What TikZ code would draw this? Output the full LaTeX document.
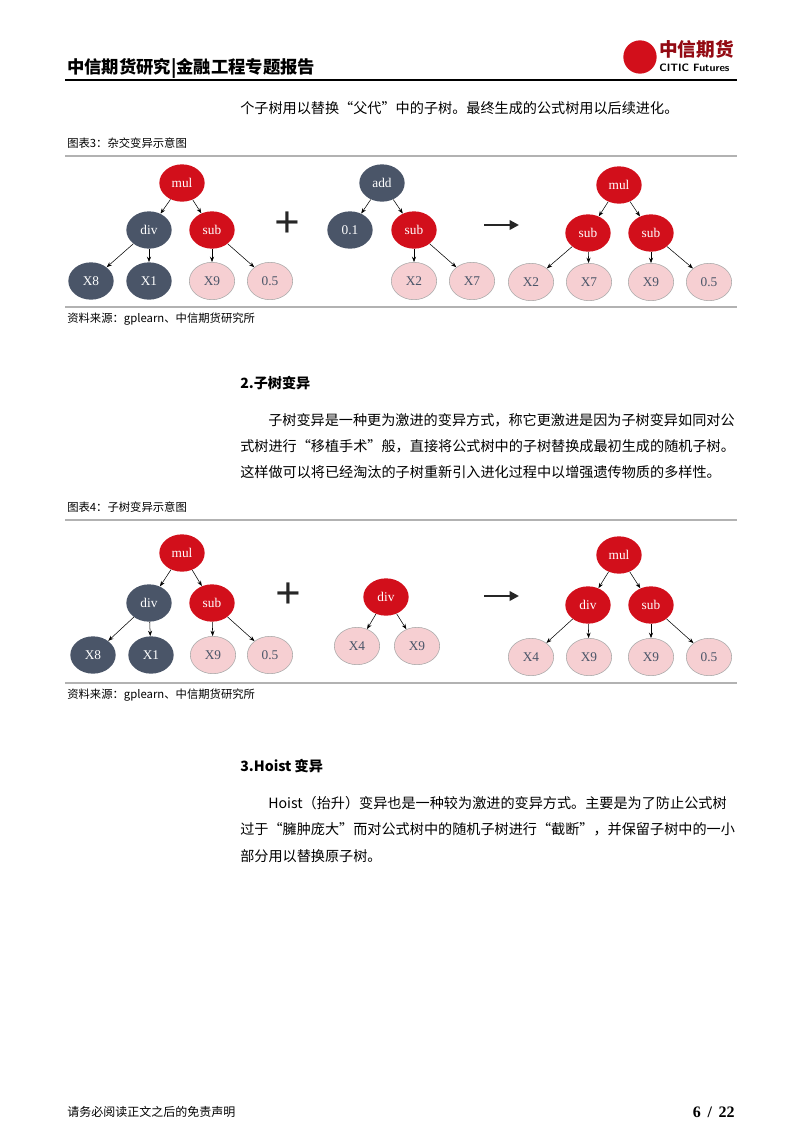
\documentclass[tikz,border=0pt]{standalone}
\usepackage{fontspec}
\setmainfont{Liberation Serif}
\newfontfamily\cjk{Noto Sans CJK SC}
\usetikzlibrary{shapes.geometric, arrows.meta, positioning}
\definecolor{citicred}{HTML}{D20F1B}
\definecolor{slate}{HTML}{4A5568}
\definecolor{rosy}{HTML}{F6CFD2}
\tikzset{
  rednode/.style={ellipse,fill=citicred,text=white,minimum width=34pt,minimum height=28pt,inner sep=0pt,font=\normalsize},
  darknode/.style={ellipse,fill=slate,text=white,minimum width=34pt,minimum height=28pt,inner sep=0pt,font=\normalsize},
  palenode/.style={ellipse,fill=rosy,draw=gray!70,text=slate,minimum width=34pt,minimum height=28pt,inner sep=0pt,font=\normalsize},
  edge/.style={-{Stealth[length=4pt]},thin},
  body/.style={anchor=west,inner sep=0pt,font=\cjk\fontsize{10.6}{12}\selectfont},
  captext/.style={anchor=west,inner sep=0pt,font=\cjk\fontsize{8.5}{10}\selectfont}
}
\begin{document}
\begin{tikzpicture}[x=0.75pt,y=-0.75pt]
\useasboundingbox (0,0) rectangle (802,1133);
% header
\node[anchor=west,inner sep=0pt,font=\cjk\bfseries\fontsize{13}{15}\selectfont] (title) at (67,68) {中信期货研究|金融工程专题报告};
\node[circle,fill=citicred,minimum size=25pt,inner sep=0pt] (logo) at (640,57) {};
\node[anchor=west,inner sep=0pt,font=\cjk\bfseries\fontsize{14}{16}\selectfont,text=citicred!70!black] (brand) at (659,49) {中信期货};
\node[anchor=west,inner sep=0pt,font=\sffamily\bfseries\fontsize{8}{9}\selectfont] (brandEn) at (659,68) {CITIC Futures};
\draw[line width=0.8pt] (65,80) -- (737,80);
\node[body] (intro) at (240,108) {个子树用以替换“父代”中的子树。最终生成的公式树用以后续进化。};
% figure 3
\node[captext] (cap3) at (67,143) {图表3：杂交变异示意图};
\draw[gray!60,line width=2pt] (65,156) -- (737,156);
\node[rednode] (m1) at (182,183) {mul};
\node[darknode] (d1) at (149,230) {div};
\node[rednode] (s1) at (212,230) {sub};
\node[darknode] (a1) at (91,281) {X8};
\node[darknode] (b1) at (149,281) {X1};
\node[palenode] (c1) at (212,281) {X9};
\node[palenode] (e1) at (270,281) {0.5};
\draw[edge] (m1) -- (d1); \draw[edge] (m1) -- (s1);
\draw[edge] (d1) -- (a1); \draw[edge] (d1) -- (b1);
\draw[edge] (s1) -- (c1); \draw[edge] (s1) -- (e1);
\node[font=\bfseries\fontsize{34}{34}\selectfont,text=black!85] (plus1) at (287,225) {+};
\node[darknode] (m2) at (382,183) {add};
\node[darknode] (d2) at (350,230) {0.1};
\node[rednode] (s2) at (414,230) {sub};
\node[palenode] (c2) at (414,281) {X2};
\node[palenode] (e2) at (472,281) {X7};
\draw[edge] (m2) -- (d2); \draw[edge] (m2) -- (s2);
\draw[edge] (s2) -- (c2); \draw[edge] (s2) -- (e2);
\coordinate (p1) at (484,225); \coordinate (q1) at (519,225);
\draw[-{Triangle[length=7pt,width=7pt]},line width=2pt,black!85] (p1) -- (q1);
\node[rednode] (m3) at (619,185) {mul};
\node[rednode] (d3) at (588,233) {sub};
\node[rednode] (s3) at (651,233) {sub};
\node[palenode] (a3) at (531,282) {X2};
\node[palenode] (b3) at (589,282) {X7};
\node[palenode] (c3) at (651,282) {X9};
\node[palenode] (e3) at (709,282) {0.5};
\draw[edge] (m3) -- (d3); \draw[edge] (m3) -- (s3);
\draw[edge] (d3) -- (a3); \draw[edge] (d3) -- (b3);
\draw[edge] (s3) -- (c3); \draw[edge] (s3) -- (e3);
\draw[gray!60,line width=2pt] (65,307) -- (737,307);
\node[captext] (src3) at (67,319) {资料来源：gplearn、中信期货研究所};
% section 2
\node[body,font=\cjk\bfseries\fontsize{10.6}{12}\selectfont] (sec2) at (240,383) {2.子树变异};
\node[body] (t21) at (268,420) {子树变异是一种更为激进的变异方式，称它更激进是因为子树变异如同对公};
\node[body] (t22) at (240,446) {式树进行“移植手术”般，直接将公式树中的子树替换成最初生成的随机子树。};
\node[body] (t23) at (240,472) {这样做可以将已经淘汰的子树重新引入进化过程中以增强遗传物质的多样性。};
% figure 4
\node[captext] (cap4) at (67,507) {图表4：子树变异示意图};
\draw[gray!60,line width=2pt] (65,520) -- (737,520);
\node[rednode] (m4) at (182,553) {mul};
\node[darknode] (d4) at (149,603) {div};
\node[rednode] (s4) at (212,603) {sub};
\node[darknode] (a4) at (93,655) {X8};
\node[darknode] (b4) at (151,655) {X1};
\node[palenode] (c4) at (213,655) {X9};
\node[palenode] (e4) at (270,655) {0.5};
\draw[edge] (m4) -- (d4); \draw[edge] (m4) -- (s4);
\draw[edge] (d4) -- (a4); \draw[edge] (d4) -- (b4);
\draw[edge] (s4) -- (c4); \draw[edge] (s4) -- (e4);
\node[font=\bfseries\fontsize{34}{34}\selectfont,text=black!85] (plus2) at (288,596) {+};
\node[rednode] (m5) at (386,597) {div};
\node[palenode] (a5) at (357,646) {X4};
\node[palenode] (b5) at (417,646) {X9};
\draw[edge] (m5) -- (a5); \draw[edge] (m5) -- (b5);
\coordinate (p2) at (484,596); \coordinate (q2) at (519,596);
\draw[-{Triangle[length=7pt,width=7pt]},line width=2pt,black!85] (p2) -- (q2);
\node[rednode] (m6) at (619,555) {mul};
\node[rednode] (d6) at (588,605) {div};
\node[rednode] (s6) at (651,605) {sub};
\node[palenode] (a6) at (531,657) {X4};
\node[palenode] (b6) at (589,657) {X9};
\node[palenode] (c6) at (651,657) {X9};
\node[palenode] (e6) at (709,657) {0.5};
\draw[edge] (m6) -- (d6); \draw[edge] (m6) -- (s6);
\draw[edge] (d6) -- (a6); \draw[edge] (d6) -- (b6);
\draw[edge] (s6) -- (c6); \draw[edge] (s6) -- (e6);
\draw[gray!60,line width=2pt] (65,683) -- (737,683);
\node[captext] (src4) at (67,695) {资料来源：gplearn、中信期货研究所};
% section 3
\node[body,font=\cjk\bfseries\fontsize{10.6}{12}\selectfont] (sec3) at (240,766) {3.Hoist 变异};
\node[body] (t31) at (268,803) {Hoist（抬升）变异也是一种较为激进的变异方式。主要是为了防止公式树};
\node[body] (t32) at (240,829) {过于“臃肿庞大”而对公式树中的随机子树进行“截断”，并保留子树中的一小};
\node[body] (t33) at (240,856) {部分用以替换原子树。};
% footer
\node[captext,font=\cjk\fontsize{9}{10}\selectfont] (disc) at (67,1112) {请务必阅读正文之后的免责声明};
\node[anchor=east,inner sep=0pt,font=\bfseries\fontsize{12}{13}\selectfont] (page) at (735,1112) {6 \,/\, 22};
\end{tikzpicture}
\end{document}
